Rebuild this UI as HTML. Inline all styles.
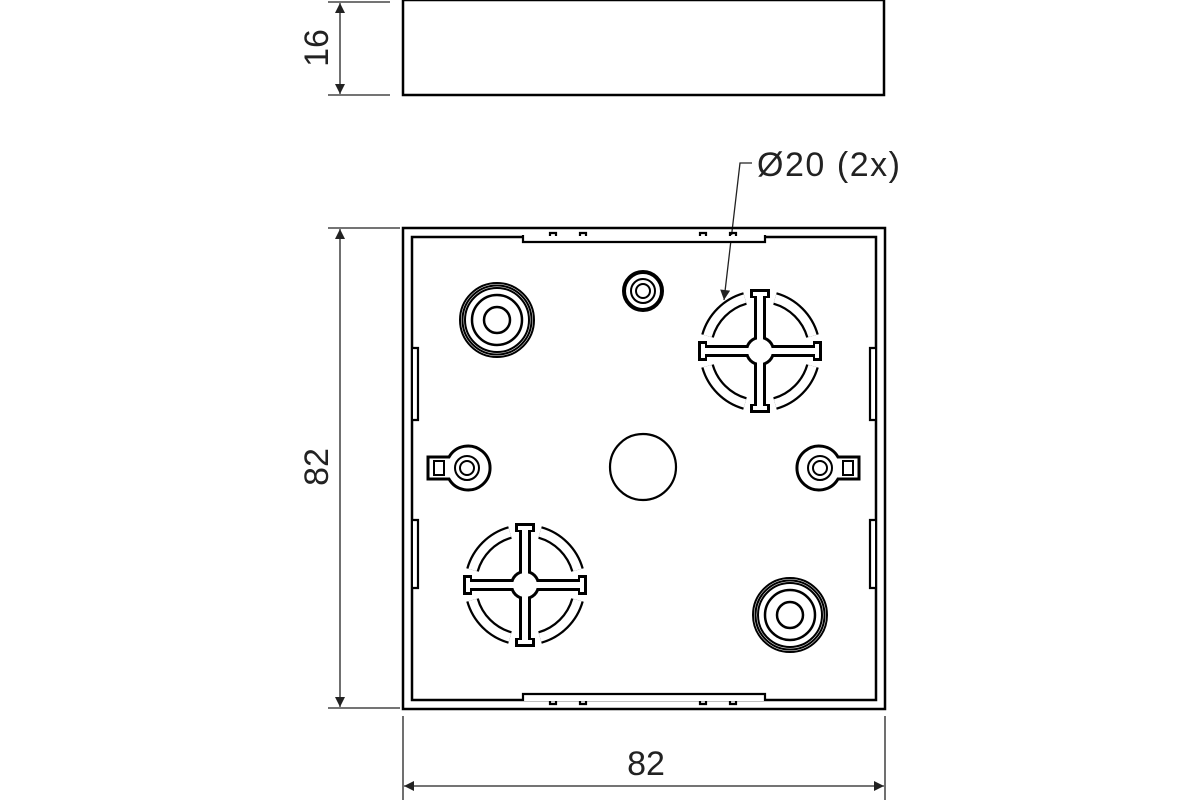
<!DOCTYPE html><html><head><style>body{margin:0;background:#fff}svg{display:block}text{font-family:"Liberation Sans",sans-serif;fill:#222}</style></head><body>
<svg width="1200" height="800" viewBox="0 0 1200 800" xmlns="http://www.w3.org/2000/svg">
<defs>
<marker id="a" viewBox="0 0 10 10" refX="10" refY="5" markerWidth="14" markerHeight="10" markerUnits="userSpaceOnUse" orient="auto-start-reverse"><path d="M0,0L10,5L0,10z" fill="#222"/></marker>
<g id="ko">
 <g fill="none" stroke="#000" stroke-width="13">
  <path d="M-15,-52.5 A54.5,54.5 0 0 0 -52.5,-15"/><path d="M15,-52.5 A54.5,54.5 0 0 1 52.5,-15"/>
  <path d="M-15,52.5 A54.5,54.5 0 0 1 -52.5,15"/><path d="M15,52.5 A54.5,54.5 0 0 0 52.5,15"/>
 </g>
 <g fill="none" stroke="#fff" stroke-width="8.5">
  <path d="M-15,-52.5 A54.5,54.5 0 0 0 -52.5,-15"/><path d="M15,-52.5 A54.5,54.5 0 0 1 52.5,-15"/>
  <path d="M-15,52.5 A54.5,54.5 0 0 1 -52.5,15"/><path d="M15,52.5 A54.5,54.5 0 0 0 52.5,15"/>
 </g>
 <g fill="#000">
  <rect x="-6" y="-62" width="12" height="124"/><rect x="-62" y="-6" width="124" height="12"/>
  <rect x="-10" y="-62" width="20" height="9"/><rect x="-10" y="53" width="20" height="9"/>
  <rect x="-62" y="-10" width="9" height="20"/><rect x="53" y="-10" width="9" height="20"/>
  <circle r="15"/>
 </g>
 <g fill="#fff">
  <rect x="-3" y="-59" width="6" height="118"/><rect x="-59" y="-3" width="118" height="6"/>
  <rect x="-7" y="-59" width="14" height="4"/><rect x="-7" y="55" width="14" height="4"/>
  <rect x="-59" y="-7" width="4" height="14"/><rect x="55" y="-7" width="4" height="14"/>
  <circle r="12"/>
 </g>
</g>
<g id="ring" fill="none" stroke="#000">
 <circle r="37" stroke-width="2"/><circle r="34.5" stroke-width="2"/><circle r="32" stroke-width="2"/><circle r="25" stroke-width="2.5"/><circle r="13" stroke-width="2.5"/>
</g>
</defs>
<g fill="none" stroke="#222" stroke-width="1.3">
 <line x1="328" y1="2" x2="390" y2="2"/><line x1="328" y1="95" x2="390" y2="95"/>
 <line x1="340" y1="3" x2="340" y2="94" marker-start="url(#a)" marker-end="url(#a)"/>
 <line x1="328" y1="228" x2="400" y2="228"/><line x1="328" y1="708" x2="400" y2="708"/>
 <line x1="340" y1="229" x2="340" y2="707" marker-start="url(#a)" marker-end="url(#a)"/>
 <line x1="403" y1="716" x2="403" y2="800"/><line x1="885" y1="716" x2="885" y2="800"/>
 <line x1="404" y1="786" x2="884" y2="786" marker-start="url(#a)" marker-end="url(#a)"/>
 <polyline points="752,163 740,163 724,300" marker-end="url(#a)"/>
</g>
<text x="0" y="0" font-size="34" transform="translate(328,48) rotate(-90)" text-anchor="middle">16</text>
<text x="0" y="0" font-size="34" transform="translate(328,467) rotate(-90)" text-anchor="middle">82</text>
<text x="646" y="775" font-size="34" text-anchor="middle">82</text>
<text x="757" y="176" font-size="34" textLength="143">Ø20 (2x)</text>
<rect x="403" y="0" width="481" height="95" fill="none" stroke="#000" stroke-width="2.5"/>
<rect x="403" y="228" width="482" height="481" fill="none" stroke="#000" stroke-width="2.5"/>
<rect x="412" y="237" width="464" height="463" fill="none" stroke="#000" stroke-width="2.5"/>
<g fill="#fff" stroke="#000" stroke-width="2.2">
 <path d="M523,235 V242 H765 V235"/>
 <path d="M523,701 V694 H765 V701"/>
 <path d="M413,348 H418 V420 H413"/>
 <path d="M413,520 H418 V588 H413"/>
 <path d="M875,348 H870 V420 H875"/>
 <path d="M875,520 H870 V588 H875"/>
</g>
<g fill="none" stroke="#000" stroke-width="2.2">
 <path d="M550,236 v-3 h6 v3 M580,236 v-3 h6 v3 M700,236 v-3 h6 v3 M730,236 v-3 h6 v3"/>
 <path d="M550,701 v3 h6 v-3 M580,701 v3 h6 v-3 M700,701 v3 h6 v-3 M730,701 v3 h6 v-3"/>
</g>
<use href="#ring" x="497" y="320"/>
<use href="#ring" x="790" y="615"/>
<g fill="none" stroke="#000">
 <circle cx="643" cy="291" r="19" stroke-width="4"/><circle cx="643" cy="291" r="12" stroke-width="2"/><circle cx="643" cy="291" r="7" stroke-width="2"/>
 <circle cx="643" cy="467" r="33" stroke-width="2.2"/>
</g>
<g fill="#fff" stroke="#000" stroke-width="3">
 <path d="M428,457 H449 A22,22 0 1 1 449,479 H428 Z"/>
 <path d="M859,457 H838 A22,22 0 1 0 838,479 H859 Z"/>
</g>
<g fill="none" stroke="#000" stroke-width="2">
 <rect x="434" y="461" width="10" height="14"/><rect x="843" y="461" width="10" height="14"/>
 <circle cx="467" cy="468" r="12"/><circle cx="467" cy="468" r="7"/>
 <circle cx="820" cy="468" r="12"/><circle cx="820" cy="468" r="7"/>
</g>
<use href="#ko" x="760" y="351"/>
<use href="#ko" x="525" y="585"/>
</svg></body></html>
